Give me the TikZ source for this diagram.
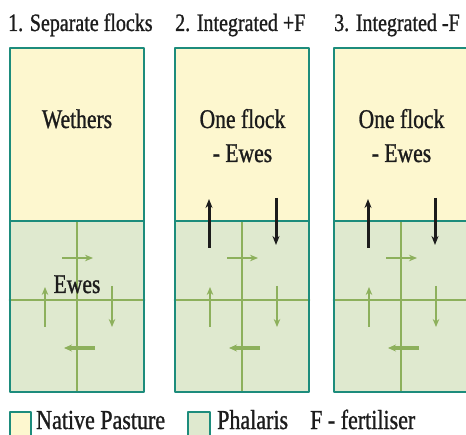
\documentclass[tikz,border=0pt]{standalone}
\usepackage{tkz-euclide}
\usetikzlibrary{arrows.meta}
\usepackage{fontspec}
\setmainfont{Liberation Serif}[FakeStretch=0.8, FakeBold=1]
\definecolor{pasture}{HTML}{FDF7CF}
\definecolor{phalaris}{HTML}{DFE9CF}
\definecolor{fence}{HTML}{1D8C7C}
\definecolor{track}{HTML}{8DB05C}
\definecolor{ink}{HTML}{1C1C1C}
\tikzset{>=stealth}
\tikzset{
  title/.style={anchor=base west, inner sep=0pt, text=ink, font=\fontsize{25}{28}\selectfont},
  flock/.style={anchor=base, inner sep=0pt, text=ink, font=\fontsize{27}{30}\selectfont},
  legend/.style={anchor=base west, inner sep=0pt, text=ink, font=\fontsize{27.5}{30}\selectfont}
}

\begin{document}
\begin{tikzpicture}[x=1pt,y=1pt]
\useasboundingbox (0,0) rectangle (466,434);
\foreach \s in {10,175,334}{
\begin{scope}[xshift=\s pt]
\tkzDefPoints{0/42/A, 134/42/B, 134/213/C, 0/213/D, 134/386/E, 0/386/F}
\tkzDefPoints{67/42/P, 67/213/Q, 0/134/R, 134/134/S}
\tkzDrawPolygon[draw=none, fill=pasture](D,C,E,F)
\tkzDrawPolygon[draw=none, fill=phalaris](A,B,C,D)
\tkzDrawSegments[track, line width=1.2pt](P,Q)
\tkzDrawSegments[track, line width=2.8pt](R,S)
\tkzDefPoints{52/176/G1, 83/176/G2, 35/107/G3, 35/147/G4, 102/148/G5, 102/107/G6, 85/86/G7, 54/86/G8}
\draw[-{Stealth[length=8pt,width=6.5pt]}, track, line width=2pt] (G1) -- (G2);
\draw[-{Stealth[length=8pt,width=6.5pt]}, track, line width=2pt] (G3) -- (G4);
\draw[-{Stealth[length=8pt,width=6.5pt]}, track, line width=2pt] (G5) -- (G6);
\draw[-{Stealth[length=8pt,width=7pt]}, track, line width=3.6pt] (G7) -- (G8);
\tkzDrawPolygon[draw=fence, line width=1.6pt](A,B,E,F)
\tkzDrawSegments[fence, line width=1.6pt](D,C)
\end{scope}}
\foreach \s in {175,334}{
\begin{scope}[xshift=\s pt]
\tkzDefPoints{34/186/K1, 34/235/K2, 101/236/K3, 101/189/K4}
\draw[-{Stealth[length=9pt,width=7pt]}, ink, line width=3pt] (K1) -- (K2);
\draw[-{Stealth[length=9pt,width=7pt]}, ink, line width=3pt] (K3) -- (K4);
\end{scope}}
% titles
\node[title] (t1) at (8,403) {1. Separate flocks};
\node[title] (t2) at (175,403) {2. Integrated +F};
\node[title] (t3) at (334,403) {3. Integrated -F};
% flocks
\node[flock] (wethers) at (77,306) {Wethers};
\node[flock] (ewes) at (77,141) {Ewes};
\node[flock] (one2) at (242.5,306) {One flock};
\node[flock] (ewes2) at (242.5,272) {- Ewes};
\node[flock] (one3) at (401.5,306) {One flock};
\node[flock] (ewes3) at (401.5,272) {- Ewes};
% legend
\tkzDefPoints{10/-4/L1, 31/-4/L2, 31/22/L3, 10/22/L4}
\tkzDrawPolygon[draw=fence, fill=pasture, line width=1.6pt](L1,L2,L3,L4)
\tkzDefPoints{188/-4/M1, 210/-4/M2, 210/22/M3, 188/22/M4}
\tkzDrawPolygon[draw=fence, fill=phalaris, line width=1.6pt](M1,M2,M3,M4)
\node[legend] (native) at (36,5) {Native Pasture};
\node[legend] (phal) at (217,5) {Phalaris};
\node[legend] (fert) at (310,5) {F - fertiliser};
\end{tikzpicture}
\end{document}
